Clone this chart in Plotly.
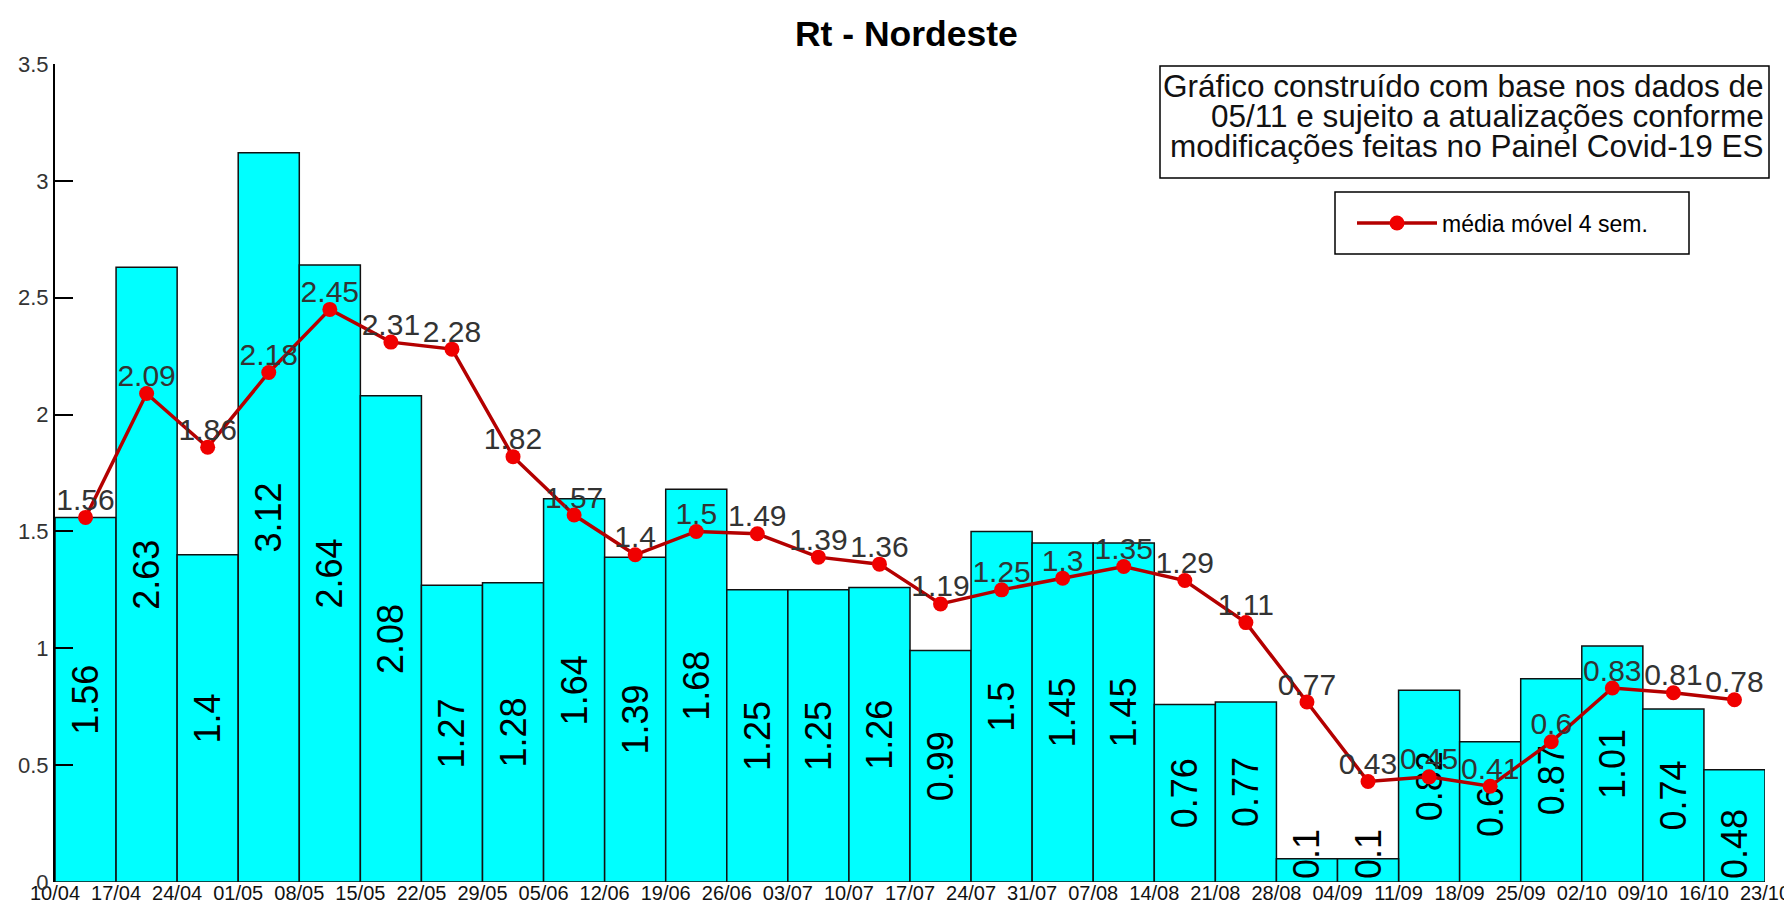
import numpy as np
import plotly.graph_objects as go

# week boundaries (tick labels sit on bar edges)
week_labels = ["10/04", "17/04", "24/04", "01/05", "08/05", "15/05", "22/05", "29/05",
               "05/06", "12/06", "19/06", "26/06", "03/07", "10/07", "17/07", "24/07",
               "31/07", "07/08", "14/08", "21/08", "28/08", "04/09", "11/09", "18/09",
               "25/09", "02/10", "09/10", "16/10", "23/10"]

# weekly Rt (bars)
rt_weekly = [1.56, 2.63, 1.4, 3.12, 2.64, 2.08, 1.27, 1.28, 1.64, 1.39, 1.68, 1.25, 1.25, 1.26,
             0.99, 1.5, 1.45, 1.45, 0.76, 0.77, 0.1, 0.1, 0.82, 0.6, 0.87, 1.01, 0.74, 0.48]

# 4-week moving average (line)
rt_mm4 = [1.56, 2.09, 1.86, 2.18, 2.45, 2.31, 2.28, 1.82, 1.57, 1.4, 1.5, 1.49, 1.39, 1.36,
          1.19, 1.25, 1.3, 1.35, 1.29, 1.11, 0.77, 0.43, 0.45, 0.41, 0.6, 0.83, 0.81, 0.78]

y_ticks = [0, 0.5, 1, 1.5, 2, 2.5, 3, 3.5]

note_lines = ["Gráfico construído com base nos dados de",
              "05/11 e sujeito a atualizações conforme",
              "modificações feitas no Painel Covid-19 ES"]

FONT = "Liberation Sans, Arial, sans-serif"
# the html body has an 8px margin, so the figure is drawn 16px smaller
OFF = 8
W, H = 1792 - 2 * OFF, 911 - 2 * OFF
L, T = 55 - OFF, 64 - OFF          # plot area on the page: x 55..1765, y 64..882
R, B = W - (1765 - OFF), H - (882 - OFF)
PW, PH = W - L - R, H - T - B


def px(x):  # page pixel -> paper x
    return (x - OFF - L) / PW


def py(y):  # page pixel -> paper y
    return (H - B - (y - OFF)) / PH


xc = np.arange(len(rt_weekly)) + 0.5
vals = np.array(rt_weekly)
big = vals >= 0.5

fig = go.Figure()

# bars: labels centred for tall bars, anchored at the base for short ones
for mask, anchor in [(big, "middle"), (~big, "start")]:
    fig.add_trace(go.Bar(
        x=xc[mask], y=vals[mask], width=1,
        marker=dict(color="#00ffff", line=dict(color="#111111", width=1.5)),
        text=[f"{v:g}" for v in vals[mask]],
        textposition="inside", textangle=-90, insidetextanchor=anchor,
        constraintext="none",
        textfont=dict(size=36, color="black", family=FONT),
        showlegend=False, hoverinfo="skip",
    ))

fig.add_trace(go.Scatter(
    x=xc, y=rt_mm4, mode="lines+markers",
    name="média móvel 4 sem.",
    line=dict(color="#b40000", width=3.5),
    marker=dict(color="#f00000", size=15),
))
# value labels sit right on top of the points
fig.add_trace(go.Scatter(
    x=xc, y=rt_mm4, mode="text",
    text=[f"{v:g}" for v in rt_mm4],
    textposition="top center", marker=dict(size=1),
    textfont=dict(size=30, color="#333333", family=FONT),
    cliponaxis=False, showlegend=False, hoverinfo="skip",
))

# note box
fig.add_shape(type="rect", xref="paper", yref="paper",
              x0=px(1160), x1=px(1769), y0=py(178), y1=py(66),
              line=dict(color="black", width=1.5), fillcolor="white", layer="above")
for i, line in enumerate(note_lines):
    fig.add_annotation(text=line, xref="paper", yref="paper",
                       x=px(1766), y=py(86 + 30 * i), xanchor="right", yanchor="middle",
                       showarrow=False, font=dict(size=31.5, color="#111111", family=FONT))

# legend frame
fig.add_shape(type="rect", xref="paper", yref="paper",
              x0=px(1335), x1=px(1689), y0=py(254), y1=py(192),
              line=dict(color="black", width=1.5), fillcolor="rgba(0,0,0,0)", layer="above")

fig.update_layout(
    width=W, height=H,
    margin=dict(l=L, r=R, t=T, b=B, autoexpand=False),
    paper_bgcolor="white", plot_bgcolor="white",
    barmode="overlay",
    font=dict(family=FONT, color="#222222"),
    title=dict(text="<b>Rt - Nordeste</b>", x=px(920), xanchor="center",
               y=1 - (34 - OFF) / H, yanchor="middle",
               font=dict(size=35.5, color="black", family=FONT)),
    legend=dict(x=px(1352), y=py(223), xanchor="left", yanchor="middle",
                bgcolor="rgba(0,0,0,0)", borderwidth=0, itemwidth=80,
                font=dict(size=23, color="black", family=FONT)),
    showlegend=True,
)

fig.update_xaxes(range=[0, len(rt_weekly)], tickmode="array",
                 tickvals=list(range(len(week_labels))), ticktext=week_labels,
                 ticks="", showline=False, showgrid=False, zeroline=False,
                 automargin=False, ticklabelstandoff=-3, ticklabeloverflow="allow",
                 tickfont=dict(size=20, color="#111111", family=FONT))
fig.update_yaxes(range=[0, 3.5], tickmode="array",
                 tickvals=y_ticks, ticktext=[f"{t:g}" for t in y_ticks],
                 ticks="inside", ticklen=18, tickwidth=2, tickcolor="black",
                 showline=True, linecolor="black", linewidth=2,
                 showgrid=False, zeroline=False, automargin=False,
                 tickfont=dict(size=22, color="#333333", family=FONT))

fig.write_html("out.html")
